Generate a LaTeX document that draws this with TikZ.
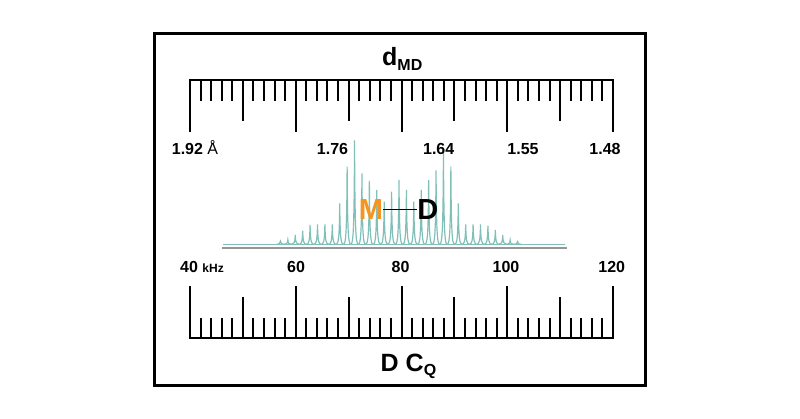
\documentclass[tikz,border=0pt]{standalone}
\usepackage{fontspec}
\setmainfont{Liberation Sans}
\definecolor{teal1}{RGB}{128,192,184}
\definecolor{gray1}{RGB}{150,150,150}
\definecolor{orange1}{RGB}{247,148,29}
\begin{document}
\begin{tikzpicture}[x=1pt,y=-1pt,
  rul/.style={line width=2pt},
  pk/.style={draw=teal1, line width=1.2pt},
  lab/.style={inner sep=0pt, font=\fontsize{16}{18}\selectfont\bfseries}]
\useasboundingbox (0,0) rectangle (800,419);
% frame
\draw[line width=3.2pt] (154.5,33.5) rectangle (645.5,385.5);
% top ruler
\draw[rul] (189,80) -- (614,80);
\foreach \i in {0,...,40}{
  \pgfmathsetmacro\xx{190+\i*10.575}
  \pgfmathsetmacro\len{ifthenelse(mod(\i,10)==0,52,ifthenelse(mod(\i,5)==0,41,21))}
  \draw[rul] (\xx,80) -- (\xx,80+\len);
}
% bottom ruler
\draw[rul] (189,338) -- (614,338);
\foreach \i in {0,...,40}{
  \pgfmathsetmacro\xx{190+\i*10.575}
  \pgfmathsetmacro\len{ifthenelse(mod(\i,10)==0,52,ifthenelse(mod(\i,5)==0,41,20))}
  \draw[rul] (\xx,338) -- (\xx,338-\len);
}
% spectrum baselines
\draw[gray1, line width=1.7pt] (222,248) -- (567,248);
\draw[teal1, line width=1.3pt] (223,244.3) -- (565,244.3);
% peaks
\foreach \k/\h in {-16/3.3,-15/4.5,-14/9.3,-13/13.7,-12/19.3,-11/20,-10/20,-9/20,-8/41,-7/77.7,-6/104,-5/71,-4/63.5,-3/54.3,-2/42.7,-1/52.7,0/64.3,1/54.3,2/42.7,3/54.3,4/64.3,5/74,6/95,7/77.7,8/41,9/20,10/20,11/20,12/18.7,13/14.3,14/9.3,15/4.3,16/2.7}{
  \pgfmathsetmacro\px{399+\k*7.41}
  \draw[pk] (\px-3.7,244.3) .. controls (\px-1.2,244.3) and (\px-0.35,244.3-0.15*\h) .. (\px,244.3-\h)
            .. controls (\px+0.35,244.3-0.15*\h) and (\px+1.2,244.3) .. (\px+3.7,244.3);
}
% M-D
\node[inner sep=0pt, anchor=base, text=orange1, font=\fontsize{29}{30}\selectfont\bfseries] (M) at (371,219.3) {M};
\node[inner sep=0pt, anchor=base, font=\fontsize{29}{30}\selectfont\bfseries] (D) at (427.8,219.3) {D};
\draw[line width=1.6pt] (M.east) -- (D.west);
% titles
\node[inner sep=0pt, anchor=base west, font=\bfseries] (dmd) at (382,66)
  {\fontsize{25}{25}\selectfont d\raisebox{-5pt}{\fontsize{16}{16}\selectfont MD}};
\node[inner sep=0pt, anchor=base west, font=\bfseries] (dcq) at (380.5,371)
  {\fontsize{25}{25}\selectfont D C\raisebox{-4pt}{\fontsize{16}{16}\selectfont Q}};
% top labels
\node[lab, anchor=base west] (l192) at (171.7,155) {1.92 {\mdseries Å}};
\node[lab, anchor=base] (l176) at (332.5,155) {1.76};
\node[lab, anchor=base] (l164) at (438.7,155) {1.64};
\node[lab, anchor=base] (l155) at (523,155) {1.55};
\node[lab, anchor=base] (l148) at (605,155) {1.48};
% bottom labels
\node[lab, anchor=base west] (l40) at (180,272.7) {40 {\fontsize{12}{14}\selectfont kHz}};
\node[lab, anchor=base] (l60) at (296,272.7) {60};
\node[lab, anchor=base] (l80) at (400.5,272.7) {80};
\node[lab, anchor=base] (l100) at (506,272.7) {100};
\node[lab, anchor=base] (l120) at (611.7,272.7) {120};
\end{tikzpicture}
\end{document}
